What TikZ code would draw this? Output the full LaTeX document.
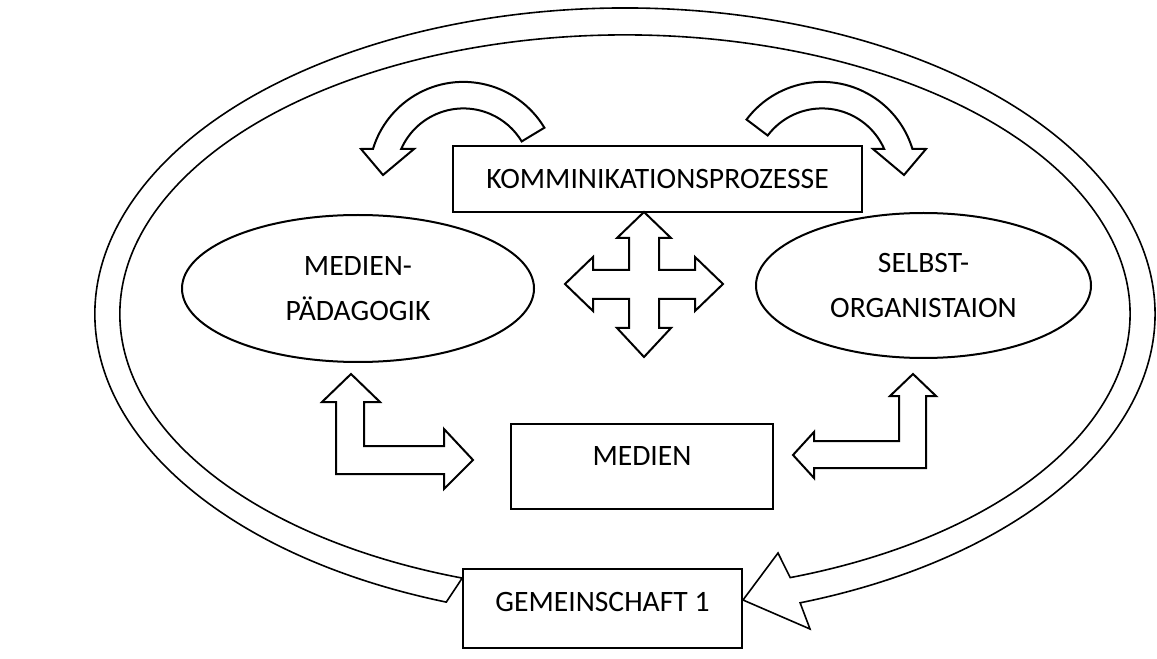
\documentclass[tikz,border=0pt]{standalone}
\usepackage{fontspec}
\setmainfont{Carlito}
\usetikzlibrary{shapes.geometric,calc}
\begin{document}
\begin{tikzpicture}[x=0.75pt,y=-0.75pt,
  every node/.style={font=\fontsize{22.2}{33.75}\selectfont},
  boxnode/.style={draw,line width=1.5pt,fill=white,inner sep=0pt},
  ellnode/.style={ellipse,draw,line width=1.5pt,fill=white,inner sep=0pt,align=center},
  blockarrow/.style={draw,line width=1.5pt,fill=white,line join=miter},
  ringarrow/.style={draw,line width=1.2pt,fill=white,line join=miter}]
\useasboundingbox (0,0) rectangle (1157,659);

% big ring arrow
\draw[ringarrow] (446.3,602.1) arc[start angle=109.7,end angle=430.7,x radius=530,y radius=306]
  -- (810,629) -- (743,600) -- (778,553) -- (790.2,577.6)
  arc[start angle=430.9,end angle=108.8,x radius=505,y radius=279] -- cycle;

% nodes
\node[boxnode,minimum width=306.75pt,minimum height=49.5pt] (komm) at (657.5,179) {KOMMINIKATIONSPROZESSE};
\node[ellnode,minimum width=264pt,minimum height=110.25pt] (medpaed) at (358,288.5) {MEDIEN-\\PÄDAGOGIK};
\node[ellnode,minimum width=251.25pt,minimum height=108.75pt] (selbst) at (923.5,285.5) {SELBST-\\ORGANISTAION};
\node[boxnode,minimum width=196.5pt,minimum height=63.75pt] (medien) at (642,466.5) {};
\node (medientxt) at (642,456) {MEDIEN};
\node[boxnode,minimum width=209.25pt,minimum height=59.25pt] (gem) at (602.5,608.5) {};
\node (gemtxt) at (602.5,602) {GEMEINSCHAFT 1};

% curved arrows above the top box
\coordinate (cl) at (463.4,176.4);
\draw[blockarrow] ($(cl)+(-31:94.5)$) arc[start angle=-31,end angle=-163.1,radius=94.5]
  -- (361,149) -- (383,175) -- (414,149) -- (401.2,149)
  arc[start angle=-156.2,end angle=-31,radius=68] -- cycle;
\coordinate (cr) at (822,176.4);
\draw[blockarrow] ($(cr)+(-143:94.5)$) arc[start angle=-143,end angle=-16.9,radius=94.5]
  -- (926,149) -- (904,175) -- (873,149) -- (884.2,149)
  arc[start angle=-23.8,end angle=-143,radius=68] -- cycle;

% four-way arrow
\draw[blockarrow] (644,212) -- (671,238) -- (659,238) -- (659,270) -- (695,270) -- (695,257)
  -- (723,284) -- (695,311) -- (695,299) -- (659,299) -- (659,328) -- (671,328)
  -- (644,357) -- (617,328) -- (629,328) -- (629,299) -- (593,299) -- (593,311)
  -- (565,284) -- (593,257) -- (593,270) -- (629,270) -- (629,238) -- (617,238) -- cycle;

% L-shaped arrows
\draw[blockarrow] (351,374) -- (380,402) -- (364,402) -- (364,446) -- (444,446) -- (444,429)
  -- (473,460) -- (444,489) -- (444,474) -- (336,474) -- (336,402) -- (322,402) -- cycle;
\draw[blockarrow] (913,374) -- (936,396) -- (926,396) -- (926,468) -- (814,468) -- (814,478)
  -- (793,455) -- (814,432) -- (814,441) -- (899,441) -- (899,396) -- (890,396) -- cycle;
\end{tikzpicture}
\end{document}
